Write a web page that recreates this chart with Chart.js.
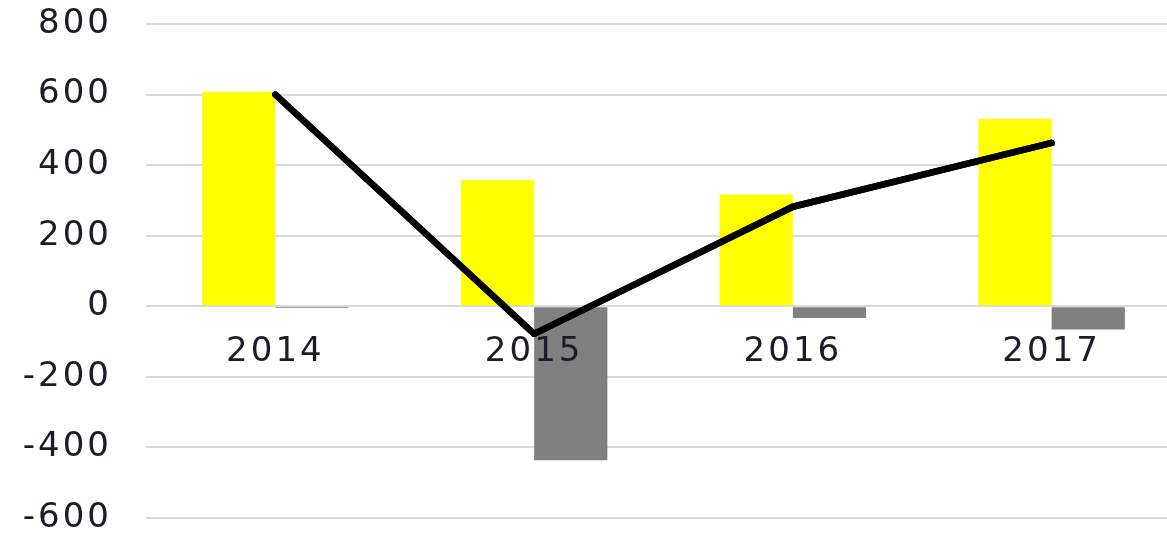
<!DOCTYPE html>
<html>
<head>
<meta charset="utf-8">
<script src="https://cdn.jsdelivr.net/npm/chart.js@4/dist/chart.umd.min.js"></script>
<style>
  html, body { margin: 0; padding: 0; background: #fff; overflow: hidden; }
  #wrap { width: 1181px; height: 533px; }
</style>
</head>
<body>
<div id="wrap"><canvas id="c" width="1181" height="533"></canvas></div>
<script>
const categories = ['2014', '2015', '2016', '2017'];
const yellowValues = [608, 357, 317, 531];
const grayValues = [-5, -436, -33, -66];
const lineValues = [600, -78, 282, 463];
const yTicks = [-600, -400, -200, 0, 200, 400, 600, 800];

const spacingPlugin = {
  id: 'spacing',
  beforeUpdate(chart) { chart.ctx.letterSpacing = '3px'; },
  beforeDraw(chart) { chart.ctx.letterSpacing = '3px'; },
  afterDraw(chart) {
    // keep the line on top of the category labels, as in the reference
    const meta = chart.getDatasetMeta(0);
    chart.ctx.save();
    meta.controller.draw();
    chart.ctx.restore();
  }
};

function zeroPad(scale) {
  scale.paddingTop = 0;
  scale.paddingBottom = 0;
  scale.paddingLeft = 0;
  scale.paddingRight = 0;
}

new Chart(document.getElementById('c'), {
  type: 'bar',
  data: {
    labels: categories,
    datasets: [
      {
        type: 'line',
        data: lineValues,
        borderColor: '#000000',
        borderWidth: 6.5,
        pointRadius: 0,
        tension: 0,
        borderCapStyle: 'round',
        borderJoinStyle: 'round',
        order: 0
      },
      {
        data: yellowValues,
        backgroundColor: '#FFFF00',
        categoryPercentage: 0.566,
        barPercentage: 1,
        order: 1
      },
      {
        data: grayValues,
        backgroundColor: '#808080',
        categoryPercentage: 0.566,
        barPercentage: 1,
        order: 1
      }
    ]
  },
  options: {
    responsive: false,
    animation: false,
    devicePixelRatio: 1,
    layout: { padding: { top: 24, bottom: 15, right: 0, left: 0 } },
    plugins: { legend: { display: false }, tooltip: { enabled: false } },
    scales: {
      x: {
        position: { y: 0 },
        afterFit(scale) { scale.height = 0; zeroPad(scale); },
        grid: { display: false, drawTicks: false },
        border: { display: false },
        ticks: {
          z: 1,
          padding: 25,
          color: '#1c1c28',
          font: { family: 'DejaVu Sans', size: 34 }
        }
      },
      y: {
        min: -600,
        max: 800,
        afterFit(scale) { scale.width = 146; zeroPad(scale); },
        afterBuildTicks(scale) { scale.ticks = yTicks.map(v => ({ value: v })); },
        grid: { color: '#d9d9d9', lineWidth: 2, drawTicks: false },
        border: { display: false },
        ticks: {
          padding: 34,
          color: '#1c1c28',
          font: { family: 'DejaVu Sans', size: 34 }
        }
      }
    }
  },
  plugins: [spacingPlugin]
});
</script>
</body>
</html>
